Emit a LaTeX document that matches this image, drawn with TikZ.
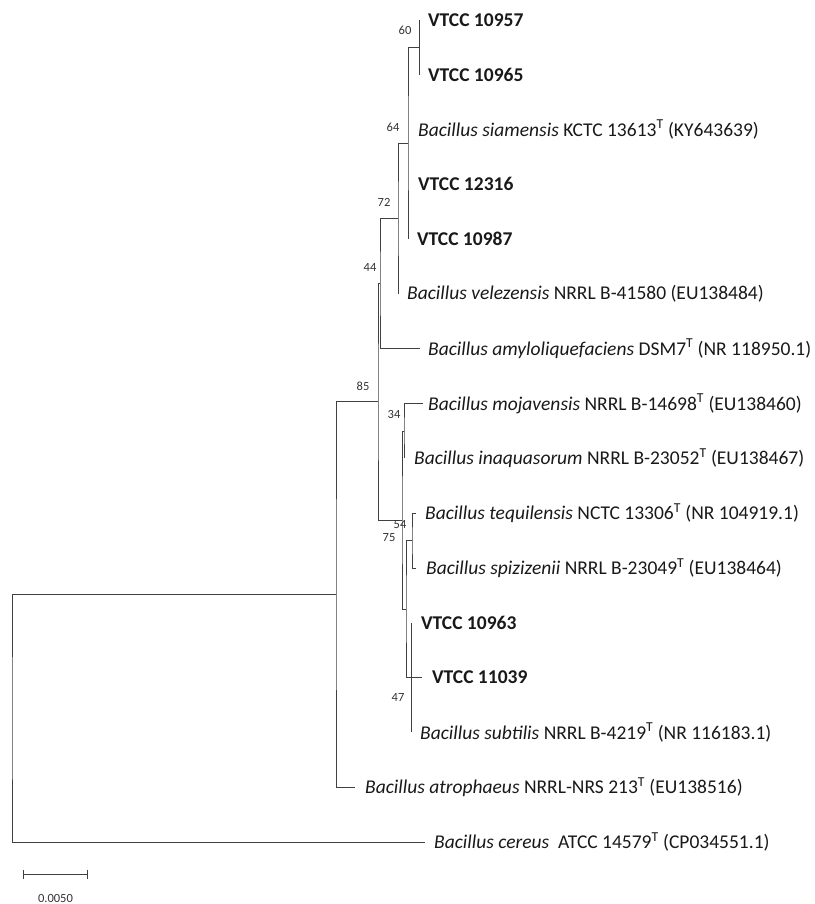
\documentclass[tikz,border=0pt]{standalone}
\usepackage{fontspec}
\setmainfont{Carlito}
\usepackage{tikz}
\usetikzlibrary{arrows.meta,calc,positioning}

\begin{document}
\begin{tikzpicture}[
			x=1pt, y=-1pt,
			branch/.style={draw=black!75, line width=0.9pt},
			taxon/.style={anchor=west, inner sep=0pt, font=\fontsize{19.5}{22}\selectfont, text=black!90},
			strain/.style={taxon, font=\fontsize{19.5}{22}\selectfont\bfseries},
			boot/.style={inner sep=0pt, font=\fontsize{12.5}{14}\selectfont, text=black!80},
			]
			\useasboundingbox (0,0) rectangle (814,904);
			
			% leaf tips, top to bottom
			\coordinate (t1)  at (419,20);
			\coordinate (t2)  at (419,74.8);
			\coordinate (t3)  at (408,129.6);
			\coordinate (t4)  at (408,184.4);
			\coordinate (t5)  at (408,239.2);
			\coordinate (t6)  at (398,294);
			\coordinate (t7)  at (420,348.8);
			\coordinate (t8)  at (423,403.6);
			\coordinate (t9)  at (404,458.4);
			\coordinate (t10) at (416,513.2);
			\coordinate (t11) at (416,568);
			\coordinate (t12) at (411,622.8);
			\coordinate (t13) at (422,677.6);
			\coordinate (t14) at (411,732.4);
			\coordinate (t15) at (355,787.2);
			\coordinate (t16) at (425,842);
			
			% internal nodes
			\coordinate (nG) at (419,47.4);
			\coordinate (nF) at (408,143.3);
			\coordinate (nE) at (398,218.6);
			\coordinate (nC) at (380,283.7);
			\coordinate (nH) at (404,431);
			\coordinate (nJ) at (412,540.6);
			\coordinate (nK) at (411,677.6);
			\coordinate (nI) at (406,609.1);
			\coordinate (nD) at (402,520);
			\coordinate (nB) at (378,401.9);
			\coordinate (nA) at (336,594.5);
			\coordinate (nR) at (12,718.2);
			
			\draw[branch] (t1) -- (t2);
			\draw[branch] (nG) -| (nF) |- (t5);
			\draw[branch] (nF) -| (nE) |- (t6);
			\draw[branch] (nE) -| (nC) |- (t7);
			\draw[branch] (nC) -| (nB) |- (nD);
			\draw[branch] (nB) -| (nA) |- (t15);
			\draw[branch] (nA) -| (nR) |- (t16);
			\draw[branch] (t8) -| (nH) |- (t9);
			\draw[branch] (nH) -| (nD) |- (nI);
			\draw[branch] (t10) -| (nJ) |- (t11);
			\draw[branch] (nJ) -| (nI) |- (nK);
			\draw[branch] (t12) -- (t14);
			\draw[branch] (nK) -- (t13);
			
			\node[strain, right=9pt of t1] (l1) {VTCC 10957};
			\node[strain, right=9pt of t2] (l2) {VTCC 10965};
			\node[taxon, right=10pt of t3] (l3) {\textit{Bacillus siamensis} KCTC 13613\textsuperscript{T} (KY643639)};
			\node[strain, right=10pt of t4] (l4) {VTCC 12316};
			\node[strain, right=9pt of t5] (l5) {VTCC 10987};
			\node[taxon, right=9pt of t6] (l6) {\textit{Bacillus velezensis} NRRL B-41580 (EU138484)};
			\node[taxon, right=8pt of t7] (l7) {\textit{Bacillus amyloliquefaciens} DSM7\textsuperscript{T} (NR 118950.1)};
			\node[taxon, right=5pt of t8] (l8) {\textit{Bacillus mojavensis} NRRL B-14698\textsuperscript{T} (EU138460)};
			\node[taxon, right=10pt of t9] (l9) {\textit{Bacillus inaquasorum} NRRL B-23052\textsuperscript{T} (EU138467)};
			\node[taxon, right=9pt of t10] (l10) {\textit{Bacillus tequilensis} NCTC 13306\textsuperscript{T} (NR 104919.1)};
			\node[taxon, right=10pt of t11] (l11) {\textit{Bacillus spizizenii} NRRL B-23049\textsuperscript{T} (EU138464)};
			\node[strain, right=10pt of t12] (l12) {VTCC 10963};
			\node[strain, right=10pt of t13] (l13) {VTCC 11039};
			\node[taxon, right=9pt of t14] (l14) {\textit{Bacillus subtilis} NRRL B-4219\textsuperscript{T} (NR 116183.1)};
			\node[taxon, right=10pt of t15] (l15) {\textit{Bacillus atrophaeus} NRRL-NRS 213\textsuperscript{T} (EU138516)};
			\node[taxon, right=9pt of t16] (l16) {\textit{Bacillus cereus} \ ATCC 14579\textsuperscript{T} (CP034551.1)};
			
			% bootstrap values
			\node[boot] (b60) at (405,30)  {60};
			\node[boot] (b64) at (393,127) {64};
			\node[boot] (b72) at (384,202) {72};
			\node[boot] (b44) at (370,267) {44};
			\node[boot] (b85) at (363,386) {85};
			\node[boot] (b34) at (394,414) {34};
			\node[boot] (b54) at (400,525) {54};
			\node[boot] (b75) at (389,538) {75};
			\node[boot] (b47) at (398,697) {47};
			
			% scale bar
			\coordinate (sb0) at (23,874);
			\coordinate (sb1) at (88,874);
			\draw[branch, {Bar[width=9pt]}-{Bar[width=9pt]}] (sb0) -- (sb1);
			\node[boot, below=20pt of $(sb0)!0.5!(sb1)$] (sbl) {0.0050};
		\end{tikzpicture}
\end{document}
